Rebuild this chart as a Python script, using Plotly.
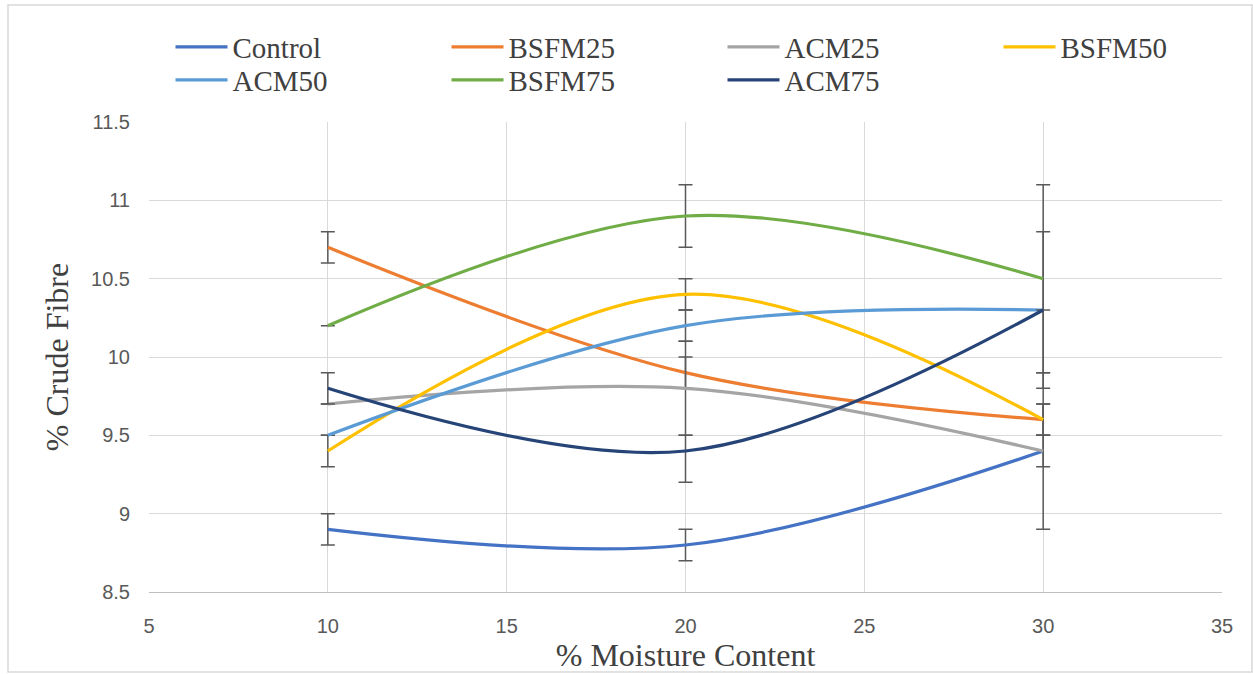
import plotly.graph_objects as go

moisture = [10, 20, 30]
series_names = ["Control", "BSFM25", "ACM25", "BSFM50", "ACM50", "BSFM75", "ACM75"]
control = [8.9, 8.8, 9.4]
bsfm25 = [10.7, 9.9, 9.6]
acm25 = [9.7, 9.8, 9.4]
bsfm50 = [9.4, 10.4, 9.6]
acm50 = [9.5, 10.2, 10.3]
bsfm75 = [10.2, 10.9, 10.5]
acm75 = [9.8, 9.4, 10.3]

err_plus = {
    "Control": [0.1, 0.1, 0.5],
    "BSFM25": [0.1, 0.1, 0.1],
    "ACM25": [0.0, 0.3, 0.1],
    "BSFM50": [0.1, 0.1, 0.1],
    "ACM50": [0.0, 0.1, 0.5],
    "BSFM75": [0.0, 0.2, 0.6],
    "ACM75": [0.1, 0.1, 0.0],
}
err_minus = {
    "Control": [0.1, 0.1, 0.5],
    "BSFM25": [0.1, 0.1, 0.1],
    "ACM25": [0.0, 0.3, 0.1],
    "BSFM50": [0.1, 0.1, 0.1],
    "ACM50": [0.0, 0.1, 0.5],
    "BSFM75": [0.0, 0.2, 0.6],
    "ACM75": [0.1, 0.2, 0.0],
}

values = [control, bsfm25, acm25, bsfm50, acm50, bsfm75, acm75]
colors = ["#4472C4", "#ED7D31", "#A5A5A5", "#FFC000", "#5B9BD5", "#70AD47", "#264478"]

# legend slot layout: (column, row)
legend_slots = [(0, 0), (1, 0), (2, 0), (3, 0), (0, 1), (1, 1), (2, 1)]

W, H = 1253, 674
ML, MR, MT, MB = 149, 31, 122, 82
PW, PH = W - ML - MR, H - MT - MB

serif = "Liberation Serif"
fig = go.Figure()
legend_layouts = {}
for i, (name, vals, col) in enumerate(zip(series_names, values, colors)):
    lname = "legend" if i == 0 else f"legend{i + 1}"
    fig.add_trace(go.Scatter(
        x=moisture, y=vals, name=name, mode="lines", legend=lname,
        line=dict(color=col, width=3.2, shape="spline", smoothing=1.0),
        error_y=dict(type="data", symmetric=False, array=err_plus[name],
                     arrayminus=err_minus[name], color="#595959",
                     thickness=1.5, width=7),
    ))
    c, r = legend_slots[i]
    px_left = 176 + 276 * c - 5.5
    py_mid = 47 + 33 * r
    legend_layouts[lname] = dict(
        x=(px_left - ML) / PW, y=(H - MB - py_mid) / PH,
        xanchor="left", yanchor="middle", orientation="h",
        font=dict(family=serif, size=29, color="#404040"),
        itemwidth=52, bgcolor="rgba(0,0,0,0)",
    )

fig.update_layout(
    width=W, height=H,
    margin=dict(l=ML, r=MR, t=MT, b=MB, autoexpand=False),
    paper_bgcolor="white", plot_bgcolor="white",
    font=dict(family=serif, color="#404040"),
    showlegend=True,
    xaxis=dict(
        range=[5, 35], dtick=5, tick0=5,
        showgrid=True, gridcolor="#D9D9D9", gridwidth=1,
        zeroline=False, showline=True, linecolor="#BFBFBF", linewidth=1,
        ticks="", ticklabelstandoff=16,
        tickfont=dict(family="Liberation Sans", size=20, color="#595959"),
        title=dict(text="% Moisture Content", font=dict(family=serif, size=32, color="#404040"),
                   standoff=4),
    ),
    yaxis=dict(
        range=[8.5, 11.5], dtick=0.5, tick0=8.5,
        showgrid=True, gridcolor="#D9D9D9", gridwidth=1,
        zeroline=False, showline=False,
        ticks="", ticklabelstandoff=18,
        tickfont=dict(family="Liberation Sans", size=20, color="#595959"),
        tickformat="~g",
        title=dict(text="% Crude Fibre", font=dict(family=serif, size=32, color="#404040"),
                   standoff=12),
    ),
    **legend_layouts,
)

fig.add_shape(type="rect", xref="paper", yref="paper",
              x0=(8 - ML) / PW, x1=(W - 1 - ML) / PW,
              y0=(H - MB - (H - 2)) / PH, y1=(H - MB - 5) / PH,
              line=dict(color="#D9D9D9", width=1.5), fillcolor="rgba(0,0,0,0)",
              layer="below")

fig.write_html("out.html")
